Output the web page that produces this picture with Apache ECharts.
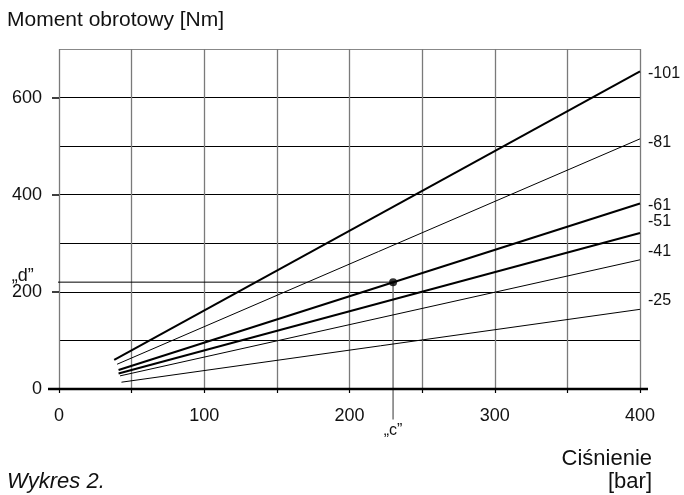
<!DOCTYPE html>
<html><head><meta charset="utf-8">
<script src="https://cdn.jsdelivr.net/npm/echarts@6/dist/echarts.min.js"></script>
<style>html,body{margin:0;padding:0;background:#fff}#c{width:684px;height:495px}</style>
</head><body><div id="c"></div>
<script>
// ---- data ----
var seriesNames = ['-101', '-81', '-61', '-51', '-41', '-25'];
var line101 = [[38, 60], [400, 654]];
var line81 = [[40, 51], [400, 515]];
var line61 = [[41, 39], [400, 382]];
var line51 = [[41, 32], [400, 321]];
var line41 = [[42, 27], [400, 266]];
var line25 = [[43, 14], [400, 164]];
var operatingPoint = [[230, 220]];
var dGuide = [[-18, 220], [230, 220]];
var cGuide = [[230, 220], [230, -63]];
var xTickLabels = [0, 100, 200, 300, 400];
var yTickLabels = [0, 200, 400, 600];

var FONT = '"Liberation Sans", Arial, Helvetica, sans-serif';
var chart = echarts.init(document.getElementById('c'), null, {renderer: 'canvas'});

var lines = [line101, line81, line61, line51, line41, line25];
var widths = [2, 1, 2, 2, 1, 1];
var labelDy = [2, 4, 2, -11, -8, -9];

var series = lines.map(function (d, i) {
  return {
    type: 'line', name: seriesNames[i], data: d, showSymbol: false, symbol: 'none',
    lineStyle: {color: '#000', width: widths[i]}, clip: false, animation: false,
    endLabel: {show: true, formatter: seriesNames[i], color: '#111', fontFamily: FONT, fontSize: 16,
      distance: 0, offset: [8, labelDy[i]], align: 'left', verticalAlign: 'middle'},
    z: 3
  };
});
series.push({type: 'line', data: dGuide, symbol: 'none', clip: false, lineStyle: {color: '#000', width: 1}, animation: false, z: 2});
series.push({type: 'line', data: cGuide, symbol: 'none', clip: false, lineStyle: {color: '#777', width: 1.5}, animation: false, z: 2});
series.push({type: 'scatter', data: operatingPoint, symbolSize: 8, itemStyle: {color: '#000'}, animation: false, z: 5});

var yGridColors = ['#000', '#000', '#000', '#000', '#000', '#000', '#000', '#888'];

chart.setOption({
  animation: false,
  grid: {left: 59, right: 44, top: 49, bottom: 106, containLabel: false},
  xAxis: {
    type: 'value', min: 0, max: 400, interval: 50,
    axisLine: {show: false},
    axisTick: {show: true, length: 4, lineStyle: {color: '#000', width: 1.2}},
    axisLabel: {customValues: xTickLabels, margin: 18, color: '#111', fontFamily: FONT, fontSize: 18},
    splitLine: {show: true, lineStyle: {color: '#7a7a7a', width: 1.3}}
  },
  yAxis: [{
    type: 'value', min: 0, max: 700, interval: 100, position: 'left',
    axisLine: {show: false}, axisTick: {show: false}, axisLabel: {show: false},
    splitLine: {show: true, lineStyle: {color: yGridColors, width: 1}}
  }, {
    type: 'value', min: 0, max: 700, interval: 100, position: 'left', offset: 0,
    axisLine: {show: false},
    axisTick: {show: true, customValues: yTickLabels, length: 7, lineStyle: {color: '#000', width: 1.5}},
    axisLabel: {customValues: yTickLabels, margin: 17, color: '#111', fontFamily: FONT, fontSize: 18},
    splitLine: {show: false}
  }],
  series: series
});

function P(v) { return chart.convertToPixel({gridIndex: 0}, v); }
var o = P([0, 0]), top = P([0, 700]), right = P([400, 0]), pt = P(operatingPoint[0]), dl = P(dGuide[0]);

chart.setOption({
  graphic: [
    {type: 'line', shape: {x1: o[0], y1: top[1] - 9, x2: o[0], y2: o[1] + 12}, style: {stroke: '#000', lineWidth: 2.5}, z: 10},
    {type: 'line', shape: {x1: o[0] - 11, y1: o[1], x2: right[0] + 8, y2: o[1]}, style: {stroke: '#000', lineWidth: 2.5}, z: 10},
    {type: 'line', shape: {x1: right[0], y1: top[1], x2: right[0], y2: o[1] + 4}, style: {stroke: '#555', lineWidth: 1.3}, z: 1},
    {type: 'text', style: {text: 'Moment obrotowy [Nm]', x: 7, y: 20, verticalAlign: 'middle', fill: '#111', font: '21px ' + FONT}},
    {type: 'text', style: {text: '\u201Ed\u201D', x: dl[0] + 1, y: dl[1] - 6, align: 'right', verticalAlign: 'middle', fill: '#111', font: '18px ' + FONT}},
    {type: 'text', style: {text: '\u201Ec\u201D', x: pt[0], y: o[1] + 42, align: 'center', verticalAlign: 'middle', fill: '#111', font: '16px ' + FONT}},
    {type: 'text', style: {text: 'Ciśnienie', x: 652, y: 459, align: 'right', verticalAlign: 'middle', fill: '#111', font: '22px ' + FONT}},
    {type: 'text', style: {text: '[bar]', x: 652, y: 482, align: 'right', verticalAlign: 'middle', fill: '#111', font: '22px ' + FONT}},
    {type: 'text', style: {text: 'Wykres 2.', x: 7, y: 482, verticalAlign: 'middle', fill: '#111', font: 'italic 22px ' + FONT}}
  ]
});
</script></body></html>
